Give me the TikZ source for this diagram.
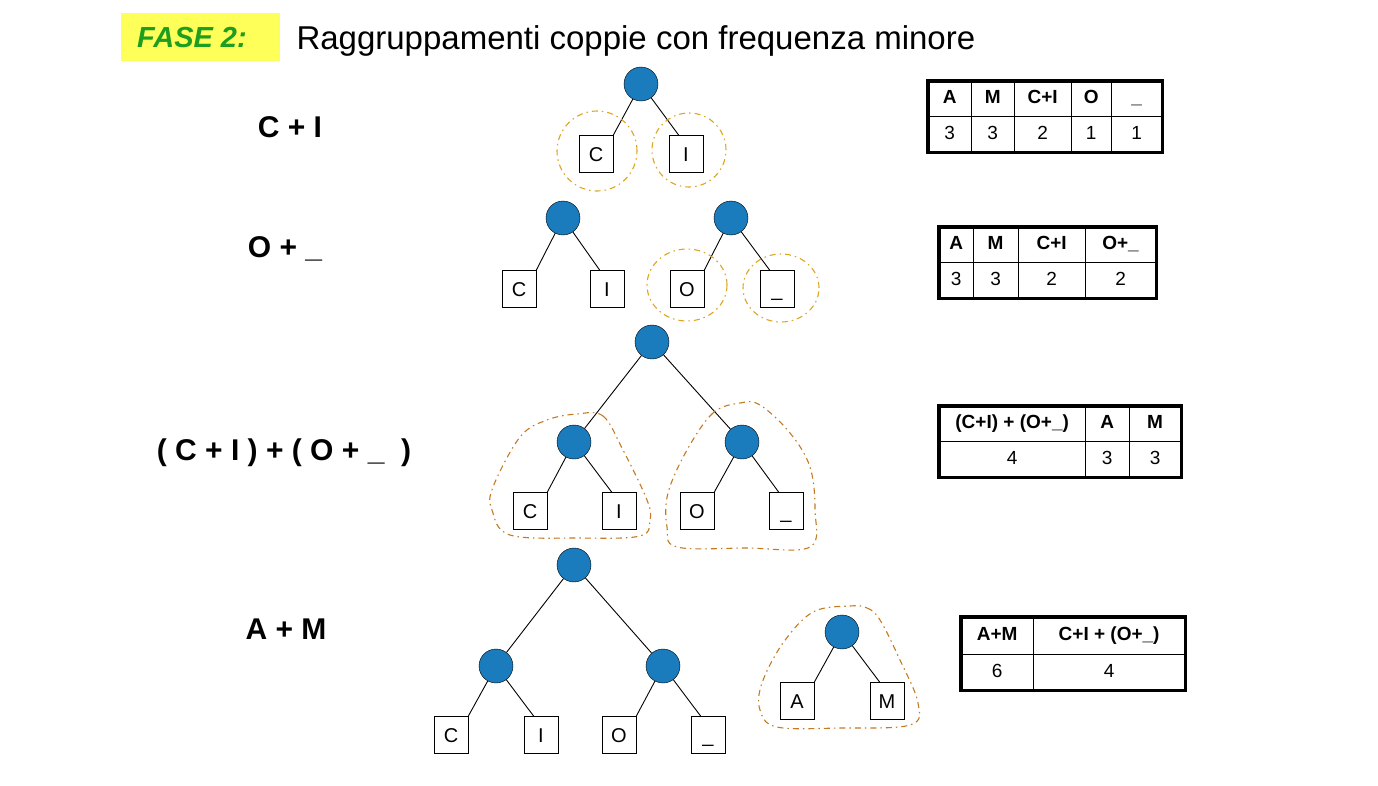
\documentclass[tikz,border=0pt]{standalone}
\usepackage{fontspec}
\setmainfont{Liberation Sans}
\usetikzlibrary{matrix}
\definecolor{knotblue}{HTML}{1A7BBD}
\definecolor{ringgold}{HTML}{DDA520}
\definecolor{blobbrown}{HTML}{C47A22}
\definecolor{fasebg}{HTML}{FFFF5A}
\definecolor{fasegreen}{HTML}{1E9E1E}
\begin{document}
\begin{tikzpicture}[x=1pt, y=-1pt,
  knot/.style={circle,draw,fill=knotblue,minimum size=34,inner sep=0},
  leaf/.style={draw,minimum width=34,minimum height=37,inner sep=0,text height=14,text depth=0,
    font=\fontsize{20}{22}\selectfont},
  ring/.style={draw=ringgold,dash pattern=on 6pt off 4pt on 1.5pt off 4pt,line width=1.1pt},
  blob/.style={draw=blobbrown,dash pattern=on 6pt off 4pt on 1.5pt off 4pt,line width=1.1pt},
  edge/.style={line width=0.9pt},
  lbl/.style={font=\bfseries\fontsize{30}{34}\selectfont},
  tab/.style={matrix of nodes,draw,line width=3.5pt,inner sep=0,anchor=north west,
    column sep=-0.8pt,row sep=-0.8pt,
    nodes={draw,line width=0.8pt,inner sep=0,text height=14,text depth=4,
      font=\fontsize{19}{22}\selectfont}}]
\useasboundingbox (0,0) rectangle (1378,785);
% heading
\fill[fasebg] (121,13) rectangle (280,61);
\node (fase) at (192,38) {\fontsize{29}{32}\selectfont\bfseries\itshape\color{fasegreen}FASE 2:};
\node[anchor=west] (title) at (293,41) {\fontsize{33}{38}\selectfont Raggruppamenti coppie con frequenza minore};
% step labels
\node[lbl] (lab1) at (290,127) {C + I};
\node[lbl] (lab2) at (285,249) {O + \_};
\node[lbl] (lab3) at (284,453) {( C + I ) + ( O + \_ \ )};
\node[lbl] (lab4) at (286,629) {A + M};
% step 1: C + I
\node[knot] (r1) at (641,84) {};
\node[leaf] (c1) at (596,154) {C};
\node[leaf] (i1) at (686,154) {I};
\draw[edge] (r1) -- (c1.north east);
\draw[edge] (r1) -- ([xshift=10pt]i1.north west);
\draw[ring] (597,151) circle[radius=40pt];
\draw[ring] (689,150) circle[radius=37pt];
\matrix (tab1) [tab,
  column 1/.style={nodes={minimum width=43}}, column 2/.style={nodes={minimum width=43}},
  column 3/.style={nodes={minimum width=57}}, column 4/.style={nodes={minimum width=40}},
  column 5/.style={nodes={minimum width=51}},
  row 1/.style={nodes={minimum height=35}}, row 2/.style={nodes={minimum height=36}}] at (926,79) {
  \textbf{A} & \textbf{M} & \textbf{C+I} & \textbf{O} & \textbf{\_} \\
  3 & 3 & 2 & 1 & 1 \\
};
% step 2: O + _
\node[knot] (r2a) at (563,218) {};
\node[knot] (r2b) at (731,218) {};
\node[leaf] (c2) at (519,289) {C};
\node[leaf] (i2) at (607,289) {I};
\node[leaf] (o2) at (687,289) {O};
\node[leaf] (u2) at (777,289) {\_};
\draw[edge] (r2a) -- (c2.north east);
\draw[edge] (r2a) -- ([xshift=10pt]i2.north west);
\draw[edge] (r2b) -- (o2.north east);
\draw[edge] (r2b) -- ([xshift=10pt]u2.north west);
\draw[ring] (687,285) ellipse[x radius=40pt,y radius=36pt];
\draw[ring] (781,288) ellipse[x radius=38pt,y radius=34pt];
\matrix (tab2) [tab,
  column 1/.style={nodes={minimum width=34}}, column 2/.style={nodes={minimum width=45}},
  column 3/.style={nodes={minimum width=67}}, column 4/.style={nodes={minimum width=71}},
  row 1/.style={nodes={minimum height=35}}, row 2/.style={nodes={minimum height=36}}] at (937,225) {
  \textbf{A} & \textbf{M} & \textbf{C+I} & \textbf{O+\_} \\
  3 & 3 & 2 & 2 \\
};
% step 3: (C + I) + (O + _)
\node[knot] (r3) at (652,342) {};
\node[knot] (m3a) at (574,442) {};
\node[knot] (m3b) at (742,442) {};
\node[leaf] (c3) at (530,511) {C};
\node[leaf] (i3) at (619,511) {I};
\node[leaf] (o3) at (697,511) {O};
\node[leaf] (u3) at (786,511) {\_};
\draw[edge] (r3) -- (m3a);
\draw[edge] (r3) -- (m3b);
\draw[edge] (m3a) -- (c3.north east);
\draw[edge] (m3a) -- ([xshift=10pt]i3.north west);
\draw[edge] (m3b) -- (o3.north east);
\draw[edge] (m3b) -- ([xshift=10pt]u3.north west);
\draw[blob] plot[smooth cycle,tension=0.6] coordinates {(577,414) (603,416) (623,450) (647,500) (650,520) (640,536) (580,538) (510,535) (492,510) (493,487) (520,437) (547,420)};
\draw[blob] plot[smooth cycle,tension=0.6] coordinates {(740,403) (713,413) (687,450) (668,493) (667,527) (677,547) (747,548) (810,547) (815,510) (810,467) (790,433) (760,405)};
\matrix (tab3) [tab,
  column 1/.style={nodes={minimum width=146}}, column 2/.style={nodes={minimum width=44}},
  column 3/.style={nodes={minimum width=52}},
  row 1/.style={nodes={minimum height=35}}, row 2/.style={nodes={minimum height=36}}] at (937,404) {
  \textbf{(C+I) + (O+\_)} & \textbf{A} & \textbf{M} \\
  4 & 3 & 3 \\
};
% step 4: A + M
\node[knot] (r4) at (574,565) {};
\node[knot] (m4a) at (496,666) {};
\node[knot] (m4b) at (663,666) {};
\node[leaf] (c4) at (451,735) {C};
\node[leaf] (i4) at (541,735) {I};
\node[leaf] (o4) at (619,735) {O};
\node[leaf] (u4) at (708,735) {\_};
\draw[edge] (r4) -- (m4a);
\draw[edge] (r4) -- (m4b);
\draw[edge] (m4a) -- (c4.north east);
\draw[edge] (m4a) -- ([xshift=10pt]i4.north west);
\draw[edge] (m4b) -- (o4.north east);
\draw[edge] (m4b) -- ([xshift=10pt]u4.north west);
\node[knot] (r5) at (842,632) {};
\node[leaf] (a5) at (797,701) {A};
\node[leaf] (m5) at (887,701) {M};
\draw[edge] (r5) -- (a5.north east);
\draw[edge] (r5) -- ([xshift=10pt]m5.north west);
\draw[blob] plot[smooth cycle,tension=0.6] coordinates {(850,606) (867,608) (880,620) (900,660) (918,703) (910,725) (840,728) (777,727) (760,710) (762,683) (783,643) (813,612)};
\matrix (tab4) [tab,
  column 1/.style={nodes={minimum width=72}}, column 2/.style={nodes={minimum width=152}},
  row 1/.style={nodes={minimum height=37}}, row 2/.style={nodes={minimum height=36}}] at (959,615) {
  \textbf{A+M} & \textbf{C+I + (O+\_)} \\
  6 & 4 \\
};
\end{tikzpicture}
\end{document}
